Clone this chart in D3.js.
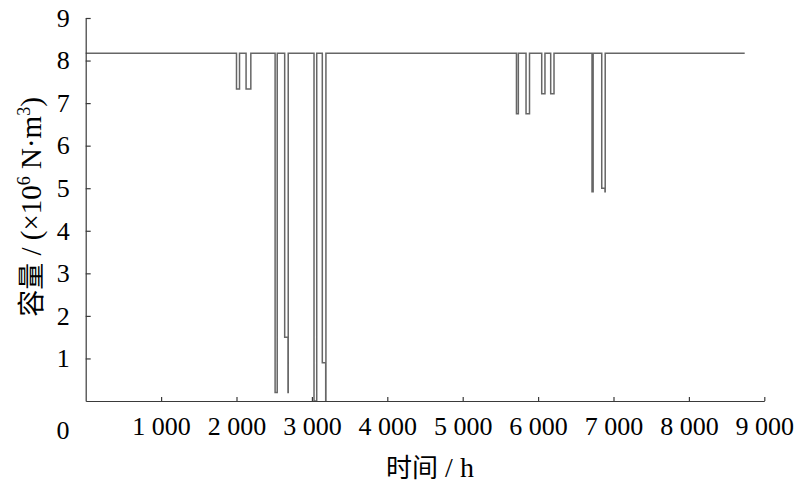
<!DOCTYPE html>
<html><head><meta charset="utf-8">
<script src="https://cdn.jsdelivr.net/npm/d3@7"></script>
<style>body{margin:0;background:#fff}svg{display:block}</style>
</head><body>
<svg id="c" width="800" height="490"></svg>
<script>
// Step series: capacity (×10^6 N·m^3) holding from each hour until the next
const hours    = [0, 2000, 2040, 2127, 2190, 2512, 2540, 2639, 2683, 2686, 3028, 3064, 3138, 3183, 3186, 5713, 5738, 5840, 5886, 6048, 6091, 6167, 6211, 6715, 6730, 6844, 6887, 6890, 8740];
const capacity = [8.17, 7.33, 8.17, 7.33, 8.17, 0.2, 8.17, 1.5, 0.2, 8.17, 0, 8.17, 0.9, 0, 8.17, 6.75, 8.17, 6.75, 8.17, 7.22, 8.17, 7.22, 8.17, 4.92, 8.17, 5.0, 4.92, 8.17, 8.17];
const xTicks = [1000, 2000, 3000, 4000, 5000, 6000, 7000, 8000, 9000];
const yTicks = [1, 2, 3, 4, 5, 6, 7, 8, 9];

const svg = d3.select("#c");
const x = d3.scaleLinear().domain([0, 9000]).range([85.7, 764.3]);
const y = d3.scaleLinear().domain([0, 9]).range([401, 18]);
const serif = "'Liberation Serif','Times New Roman',serif";
const cjk = "'Noto Sans CJK SC','Liberation Serif',serif";
const axisColor = "#3a3a3a";

const data = hours.map((h, i) => ({h, v: capacity[i]}));
svg.append("path").datum(data)
  .attr("fill", "none").attr("stroke", "#666").attr("stroke-width", 1.5)
  .attr("d", d3.line().x(d => x(d.h)).y(d => y(d.v)).curve(d3.curveStepAfter));

const fmt = d => d3.format(",")(d).replace(/,/g, " ");
const gx = svg.append("g").attr("transform", "translate(0,401)")
  .call(d3.axisBottom(x).tickValues(xTicks).tickSize(-4).tickSizeOuter(0).tickFormat(fmt).tickPadding(16));
const gy = svg.append("g").attr("transform", "translate(85.7,0)")
  .call(d3.axisLeft(y).tickValues(yTicks).tickSize(-5).tickSizeOuter(0).tickFormat(d3.format("d")).tickPadding(14));
[gx, gy].forEach(g => {
  g.select(".domain").attr("stroke", axisColor).attr("stroke-width", 1.2);
  g.selectAll(".tick line").attr("stroke", axisColor).attr("stroke-width", 1.2);
  g.selectAll("text").attr("font-family", serif).attr("font-size", 26).attr("fill", "#000");
});
gy.selectAll("text").attr("dx", -2);
// origin label
svg.append("text").attr("x", 63).attr("y", 439).attr("text-anchor", "middle")
  .attr("font-family", serif).attr("font-size", 26).text("0");

// x title
const xt = svg.append("text").attr("x", 430).attr("y", 477).attr("text-anchor", "middle").attr("font-size", 26);
xt.append("tspan").attr("font-family", cjk).text("时间");
xt.append("tspan").attr("font-family", serif).attr("font-size", 28).text(" / h");

// y title
const yt = svg.append("text").attr("transform", "translate(41,207) rotate(-90)")
  .attr("text-anchor", "middle").attr("font-size", 27);
yt.append("tspan").attr("font-family", cjk).text("容量");
yt.append("tspan").attr("font-family", serif).attr("font-size", 29).text(" / (×10");
yt.append("tspan").attr("font-family", serif).attr("font-size", 18).attr("dy", -11).text("6");
yt.append("tspan").attr("font-family", serif).attr("font-size", 29).attr("dy", 11).text("\u00a0N·m");
yt.append("tspan").attr("font-family", serif).attr("font-size", 18).attr("dy", -11).text("3");
yt.append("tspan").attr("font-family", serif).attr("font-size", 29).attr("dy", 11).text(")");
</script>
</body></html>
